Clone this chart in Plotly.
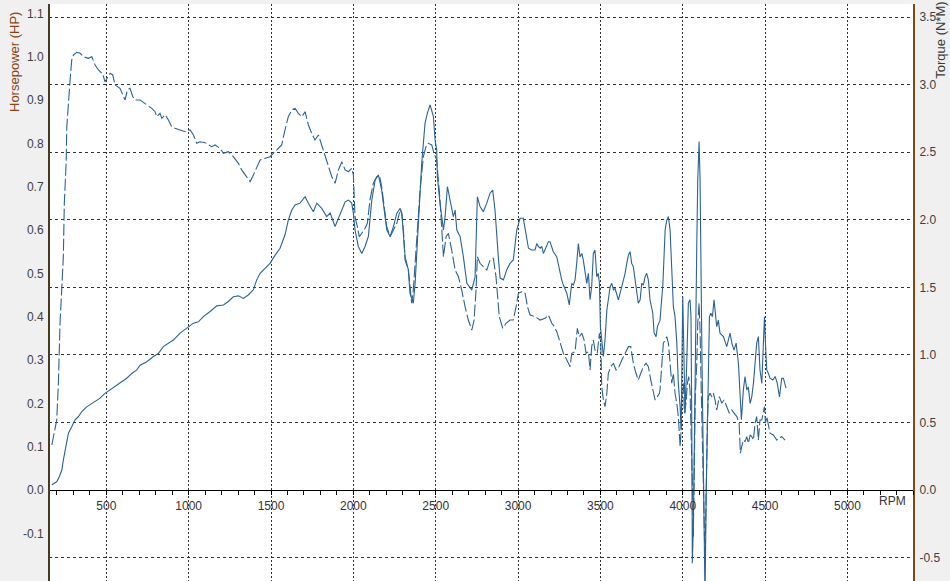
import plotly.graph_objects as go

# ---------------- data ----------------
HP_RPM = [169, 199, 215, 230, 239, 250, 260, 270, 290, 310, 330, 351, 381, 412, 432, 462, 492, 523, 563, 594,
          624, 655, 685, 705, 746, 786, 816, 846, 877, 907, 948, 989, 1029, 1059, 1089, 1130, 1171, 1211, 1241, 1271,
          1302, 1332, 1362, 1393, 1413, 1434, 1464, 1494, 1525, 1555, 1585, 1605, 1626, 1646, 1676, 1707, 1727, 1757, 1778, 1808,
          1838, 1859, 1889, 1909, 1930, 1950, 1970, 1990, 2000, 2010, 2030, 2051, 2071, 2091, 2112, 2132, 2152, 2172, 2182, 2203,
          2223, 2243, 2264, 2284, 2294, 2304, 2314, 2334, 2344, 2364, 2375, 2395, 2415, 2435, 2449, 2466, 2486, 2496, 2506, 2510,
          2526, 2547, 2557, 2571, 2587, 2607, 2618, 2628, 2648, 2668, 2689, 2719, 2739, 2749, 2753, 2769, 2789, 2810, 2830, 2846,
          2860, 2880, 2891, 2911, 2931, 2951, 2971, 2992, 3012, 3032, 3043, 3053, 3063, 3083, 3103, 3114, 3123, 3134, 3144, 3154,
          3164, 3174, 3184, 3194, 3205, 3214, 3235, 3245, 3255, 3265, 3275, 3285, 3296, 3311, 3320, 3326, 3336, 3346, 3356, 3366,
          3376, 3387, 3396, 3407, 3417, 3427, 3437, 3447, 3457, 3467, 3478, 3487, 3494, 3500, 3508, 3518, 3528, 3539, 3548, 3559,
          3569, 3579, 3589, 3599, 3609, 3619, 3630, 3639, 3650, 3660, 3670, 3680, 3690, 3700, 3710, 3721, 3730, 3741, 3751, 3761,
          3771, 3781, 3791, 3801, 3818, 3826, 3838, 3846, 3862, 3879, 3893, 3903, 3913, 3923, 3933, 3943, 3953, 3964, 3973, 3984,
          3990, 3994, 4000, 4004, 4008, 4014, 4024, 4034, 4044, 4050, 4055, 4058, 4064, 4070, 4079, 4085, 4091, 4099, 4105, 4111,
          4117, 4125, 4131, 4135, 4142, 4149, 4155, 4162, 4170, 4180, 4190, 4198, 4206, 4216, 4226, 4247, 4267, 4287, 4298, 4311,
          4324, 4338, 4348, 4356, 4368, 4378, 4389, 4398, 4409, 4419, 4429, 4439, 4449, 4459, 4469, 4480, 4489, 4496, 4502, 4510,
          4520, 4530, 4547, 4561, 4574, 4587, 4601, 4611, 4627]
HP_VALUES = [0.012, 0.019, 0.031, 0.046, 0.069, 0.092, 0.108, 0.131, 0.146, 0.162, 0.169, 0.181, 0.192, 0.200, 0.204, 0.212, 0.223, 0.231, 0.242, 0.250,
             0.258, 0.269, 0.277, 0.288, 0.296, 0.308, 0.315, 0.331, 0.339, 0.346, 0.362, 0.373, 0.385, 0.388, 0.400, 0.412, 0.425, 0.427, 0.435, 0.446,
             0.448, 0.442, 0.450, 0.462, 0.485, 0.500, 0.512, 0.523, 0.542, 0.558, 0.589, 0.623, 0.646, 0.658, 0.662, 0.677, 0.662, 0.642, 0.662, 0.650,
             0.631, 0.639, 0.608, 0.627, 0.650, 0.665, 0.669, 0.662, 0.639, 0.600, 0.562, 0.546, 0.562, 0.585, 0.669, 0.715, 0.727, 0.692, 0.662, 0.600,
             0.585, 0.608, 0.639, 0.650, 0.639, 0.585, 0.538, 0.508, 0.454, 0.431, 0.477, 0.616, 0.754, 0.846, 0.869, 0.889, 0.862, 0.808, 0.785, 0.723,
             0.662, 0.600, 0.631, 0.700, 0.669, 0.631, 0.646, 0.600, 0.585, 0.538, 0.477, 0.462, 0.492, 0.600, 0.677, 0.654, 0.642, 0.662, 0.685, 0.692,
             0.646, 0.538, 0.489, 0.485, 0.508, 0.523, 0.531, 0.600, 0.627, 0.627, 0.600, 0.577, 0.558, 0.554, 0.554, 0.569, 0.562, 0.558, 0.562, 0.546,
             0.554, 0.562, 0.573, 0.573, 0.562, 0.550, 0.538, 0.519, 0.504, 0.485, 0.473, 0.465, 0.454, 0.427, 0.462, 0.477, 0.473, 0.485, 0.523, 0.569,
             0.538, 0.546, 0.531, 0.500, 0.477, 0.500, 0.439, 0.469, 0.546, 0.554, 0.492, 0.500, 0.477, 0.377, 0.346, 0.308, 0.346, 0.415, 0.439, 0.469,
             0.477, 0.462, 0.465, 0.454, 0.439, 0.454, 0.469, 0.485, 0.500, 0.523, 0.542, 0.550, 0.523, 0.515, 0.485, 0.454, 0.431, 0.439, 0.477, 0.473,
             0.492, 0.500, 0.485, 0.439, 0.408, 0.362, 0.354, 0.377, 0.392, 0.473, 0.600, 0.623, 0.631, 0.600, 0.523, 0.423, 0.400, 0.339, 0.246, 0.192,
             0.138, 0.246, 0.446, 0.369, 0.231, 0.177, 0.292, 0.431, 0.439, 0.400, 0.138, -0.169, -0.092, 0.138, 0.369, 0.562, 0.715, 0.804, 0.715, 0.446,
             0.292, 0.062, -0.169, -0.254, -0.015, 0.138, 0.292, 0.400, 0.408, 0.400, 0.439, 0.415, 0.377, 0.392, 0.362, 0.354, 0.331, 0.362, 0.339, 0.323,
             0.339, 0.292, 0.215, 0.162, 0.231, 0.262, 0.231, 0.238, 0.200, 0.215, 0.246, 0.292, 0.339, 0.354, 0.277, 0.246, 0.339, 0.400, 0.339, 0.277,
             0.269, 0.258, 0.254, 0.262, 0.246, 0.215, 0.258, 0.258, 0.235]

TQ_RPM = [169, 199, 209, 219, 230, 239, 245, 256, 260, 270, 280, 290, 300, 321, 341, 361, 391, 412, 432, 452,
          478, 492, 503, 523, 539, 553, 583, 600, 614, 628, 644, 661, 675, 705, 746, 776, 796, 806, 826, 837,
          857, 877, 897, 917, 948, 978, 1009, 1029, 1049, 1069, 1100, 1120, 1140, 1160, 1191, 1211, 1241, 1271, 1302, 1322,
          1353, 1373, 1393, 1413, 1434, 1494, 1514, 1545, 1565, 1585, 1605, 1626, 1646, 1666, 1687, 1707, 1727, 1747, 1767, 1788,
          1808, 1828, 1848, 1869, 1889, 1909, 1930, 1950, 1970, 1990, 2000, 2004, 2010, 2024, 2036, 2051, 2071, 2085, 2101, 2121,
          2142, 2158, 2172, 2182, 2203, 2223, 2243, 2264, 2284, 2294, 2304, 2314, 2334, 2344, 2354, 2364, 2385, 2405, 2425, 2441,
          2455, 2476, 2490, 2506, 2526, 2537, 2547, 2563, 2577, 2597, 2618, 2638, 2658, 2678, 2698, 2719, 2733, 2745, 2753, 2769,
          2789, 2810, 2830, 2850, 2866, 2886, 2907, 2927, 2951, 2971, 2988, 3002, 3022, 3043, 3057, 3073, 3103, 3134, 3164, 3184,
          3205, 3214, 3235, 3255, 3275, 3296, 3316, 3326, 3346, 3360, 3372, 3387, 3401, 3413, 3427, 3437, 3447, 3457, 3467, 3481,
          3494, 3502, 3508, 3518, 3528, 3539, 3548, 3563, 3579, 3595, 3609, 3630, 3650, 3670, 3684, 3700, 3716, 3730, 3745, 3761,
          3777, 3791, 3806, 3818, 3832, 3846, 3858, 3862, 3882, 3903, 3913, 3923, 3933, 3943, 3953, 3964, 3973, 3984, 3990, 3996,
          4004, 4010, 4020, 4028, 4036, 4044, 4052, 4058, 4064, 4070, 4076, 4085, 4091, 4099, 4105, 4113, 4121, 4129, 4135, 4142,
          4149, 4155, 4166, 4176, 4186, 4196, 4206, 4222, 4237, 4251, 4267, 4283, 4297, 4311, 4328, 4342, 4350, 4358, 4368, 4378,
          4389, 4398, 4409, 4419, 4429, 4439, 4449, 4459, 4469, 4480, 4489, 4496, 4502, 4510, 4530, 4550, 4571, 4580, 4601, 4621]
TQ_VALUES = [0.333, 0.518, 0.792, 1.236, 1.503, 1.725, 2.124, 2.420, 2.687, 2.887, 3.035, 3.183, 3.220, 3.240, 3.232, 3.207, 3.195, 3.207, 3.146, 3.109,
             3.079, 3.022, 3.047, 3.084, 3.072, 2.998, 2.973, 2.924, 2.887, 2.961, 2.973, 2.911, 2.887, 2.887, 2.850, 2.825, 2.800, 2.763, 2.788, 2.751,
             2.776, 2.739, 2.689, 2.677, 2.665, 2.652, 2.665, 2.628, 2.566, 2.578, 2.571, 2.554, 2.541, 2.554, 2.529, 2.492, 2.504, 2.467, 2.418, 2.369,
             2.319, 2.282, 2.332, 2.393, 2.443, 2.467, 2.492, 2.529, 2.554, 2.665, 2.763, 2.813, 2.825, 2.788, 2.763, 2.800, 2.702, 2.640, 2.591, 2.628,
             2.554, 2.467, 2.393, 2.319, 2.270, 2.369, 2.430, 2.369, 2.356, 2.381, 2.332, 2.245, 2.023, 1.949, 1.875, 1.900, 1.937, 1.974, 2.147, 2.270,
             2.319, 2.332, 2.245, 2.147, 1.949, 1.875, 1.925, 1.974, 2.073, 2.048, 1.925, 1.702, 1.628, 1.480, 1.382, 1.480, 1.850, 2.221, 2.467, 2.541,
             2.566, 2.554, 2.492, 2.443, 2.147, 1.925, 1.727, 1.875, 1.900, 1.776, 1.628, 1.579, 1.480, 1.357, 1.258, 1.184, 1.258, 1.480, 1.727, 1.678,
             1.653, 1.628, 1.702, 1.715, 1.579, 1.283, 1.197, 1.234, 1.258, 1.258, 1.357, 1.456, 1.468, 1.456, 1.357, 1.295, 1.283, 1.258, 1.271, 1.295,
             1.234, 1.221, 1.172, 1.086, 1.012, 0.962, 0.913, 1.012, 1.024, 1.197, 1.135, 1.160, 1.110, 1.012, 1.024, 0.888, 1.061, 1.110, 1.036, 1.012,
             1.160, 1.086, 0.765, 0.666, 0.617, 0.716, 0.864, 0.913, 0.938, 0.888, 0.901, 0.962, 1.012, 1.061, 1.061, 0.938, 0.864, 0.814, 0.864, 0.913,
             0.938, 0.913, 0.814, 0.740, 0.666, 0.691, 0.716, 0.740, 1.086, 1.135, 1.086, 0.938, 0.790, 0.864, 0.716, 0.642, 0.543, 0.321, 0.444, 0.740,
             0.790, 0.568, 0.642, 0.790, 0.839, 0.740, 0.444, 0.074, -0.346, 0.198, 0.691, 0.938, 1.234, 1.382, 1.184, 0.691, 0.321, -0.173, -0.543, 0.074,
             0.494, 0.691, 0.716, 0.691, 0.716, 0.666, 0.592, 0.691, 0.642, 0.666, 0.617, 0.568, 0.592, 0.568, 0.543, 0.494, 0.272, 0.321, 0.370, 0.358,
             0.395, 0.346, 0.407, 0.395, 0.370, 0.494, 0.543, 0.370, 0.518, 0.518, 0.568, 0.617, 0.494, 0.543, 0.420, 0.407, 0.370, 0.383, 0.395, 0.370]

X_TICKS = [500, 1000, 1500, 2000, 2500, 3000, 3500, 4000, 4500, 5000]
HP_TICKS = [-0.1, 0.0, 0.1, 0.2, 0.3, 0.4, 0.5, 0.6, 0.7, 0.8, 0.9, 1.0, 1.1]
HP_TICK_TEXT = ["-0.1", "0.0", "0.1", "0.2", "0.3", "0.4", "0.5", "0.6", "0.7", "0.8", "0.9", "1.0", "1.1"]
TQ_TICKS = [-0.5, 0.0, 0.5, 1.0, 1.5, 2.0, 2.5, 3.0, 3.5]
TQ_TICK_TEXT = ["-0.5", "0.0", "0.5", "1.0", "1.5", "2.0", "2.5", "3.0", "3.5"]

LINE_COLOR = "#2a6396"
FONT = "Liberation Sans, Arial, sans-serif"

fig = go.Figure()
fig.add_trace(go.Scatter(x=HP_RPM, y=HP_VALUES, mode="lines", yaxis="y",
                         line=dict(color=LINE_COLOR, width=1.1), name="Horsepower (HP)",
                         hoverinfo="x+y"))
fig.add_trace(go.Scatter(x=TQ_RPM, y=TQ_VALUES, mode="lines", yaxis="y2",
                         line=dict(color=LINE_COLOR, width=1.1, dash="12px,3px"), name="Torque (N*M)",
                         hoverinfo="x+y"))

fig.update_layout(
    width=950, height=581,
    margin=dict(l=49, r=36, t=4, b=0, pad=0),
    paper_bgcolor="#f0f0f0",
    plot_bgcolor="#ffffff",
    showlegend=False,
    font=dict(family=FONT, size=12, color="#333333"),
    xaxis=dict(
        range=[152, 5404],
        anchor="free", position=0.1577,
        showline=True, linecolor="#000000", linewidth=1,
        ticks="outside", ticklen=4, tickcolor="#000000", tickwidth=1,
        tickmode="array", tickvals=X_TICKS,
        minor=dict(dtick=100, tick0=0, ticks="outside", ticklen=4, tickcolor="#000000", showgrid=False),
        showgrid=True, gridcolor="#333333", gridwidth=1, griddash="2px,2px",
        zeroline=False, automargin=False,
        tickfont=dict(size=12, color="#333333"),
        ticklabelstandoff=1,
    ),
    yaxis=dict(
        range=[-0.210, 1.1216],
        anchor="free", position=0, side="left",
        showline=True, linecolor="#4a3a20", linewidth=2,
        ticks="", tickmode="array", tickvals=HP_TICKS, ticktext=HP_TICK_TEXT,
        showgrid=False, zeroline=False, automargin=False,
        tickfont=dict(size=12, color="#404040"),
        ticklabelstandoff=2,
    ),
    yaxis2=dict(
        range=[-0.6736, 3.5973],
        overlaying="y", anchor="free", position=1, side="right",
        showline=True, linecolor="#7a4a18", linewidth=2,
        ticks="", tickmode="array", tickvals=TQ_TICKS, ticktext=TQ_TICK_TEXT,
        showgrid=True, gridcolor="#333333", gridwidth=1, griddash="3px,3px",
        zeroline=False, automargin=False,
        tickfont=dict(size=12, color="#404040"),
        ticklabelstandoff=2,
    ),
    annotations=[
        dict(text="Horsepower (HP)", xref="paper", yref="paper", x=-0.0393, y=0.8995,
             textangle=-90, showarrow=False, font=dict(size=13, color="#8b4513"),
             xanchor="center", yanchor="middle"),
        dict(text="Torque (N*M)", xref="paper", yref="paper", x=1.0305, y=0.9370,
             textangle=-90, showarrow=False, font=dict(size=13, color="#3a3a3a"),
             xanchor="center", yanchor="middle"),
        dict(text="RPM", xref="paper", yref="paper", x=0.9746, y=0.1386,
             showarrow=False, font=dict(size=12, color="#333333"),
             xanchor="center", yanchor="middle"),
    ],
)

fig.write_html("out.html", config={"displayModeBar": False},
               post_script="document.body.style.margin='0';document.body.style.overflow='hidden';")
